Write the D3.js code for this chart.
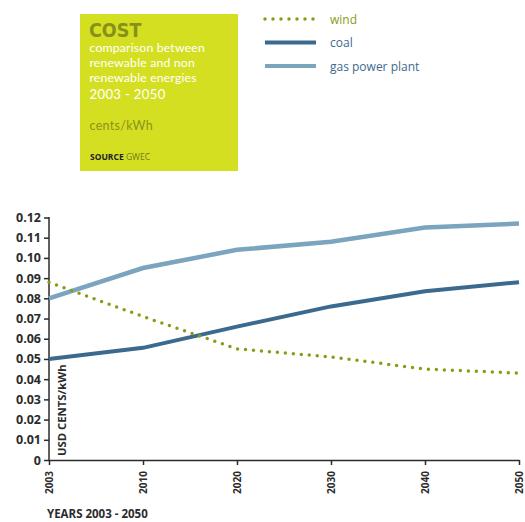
<!DOCTYPE html>
<html><head><meta charset="utf-8">
<script src="https://cdn.jsdelivr.net/npm/d3@7"></script>
<style>body{margin:0;background:#fff;}</style>
</head><body>
<svg id="c" width="525" height="522" font-family="'Open Sans',sans-serif"></svg>
<script>
const years = ["2003","2010","2020","2030","2040","2050"];
const wind = [0.088,0.071,0.055,0.051,0.045,0.043];
const coal = [0.050,0.0555,0.066,0.076,0.0835,0.088];
const gas = [0.080,0.095,0.104,0.108,0.115,0.117];
const yTicks = [0,0.01,0.02,0.03,0.04,0.05,0.06,0.07,0.08,0.09,0.10,0.11,0.12];

const svg = d3.select("#c");
const x = d3.scalePoint().domain(years).range([49,519]);
const y = d3.scaleLinear().domain([0,0.12]).range([460,217.5]);

const windC="#8c9a16", coalC="#3c6a8e", gasC="#7ba4be", ink="#2b2b2b";

// title box
svg.append("rect").attr("x",80).attr("y",14).attr("width",158).attr("height",157).attr("fill","#d5df22");
svg.append("text").attr("x",89).attr("y",37).attr("fill","#87911a").attr("font-size",19.5).attr("font-weight",700).attr("font-family","'DejaVu Sans Condensed',sans-serif").text("COST");
const sub=["comparison between","renewable and non","renewable energies"];
sub.forEach((s,i)=>svg.append("text").attr("x",89.5).attr("y",52+i*15).attr("fill","#fff").attr("font-size",12.3).attr("font-family","Lato,sans-serif").attr("letter-spacing",0.15).text(s));
svg.append("text").attr("x",89.5).attr("y",98.5).attr("fill","#fff").attr("font-size",13.2).attr("font-family","Lato,sans-serif").attr("letter-spacing",0.3).text("2003 - 2050");
svg.append("text").attr("x",89.5).attr("y",130).attr("fill","#8a9418").attr("font-size",12.5).attr("font-family","Lato,sans-serif").attr("letter-spacing",0.3).text("cents/kWh");
const src=svg.append("text").attr("x",90).attr("y",160).attr("font-size",8.5).attr("font-weight",700);
src.append("tspan").attr("fill","#222").text("SOURCE ");
src.append("tspan").attr("fill","#6f7a1c").attr("font-weight",400).text("GWEC");

// legend
const legend=[{n:"wind",c:windC,dot:true,w:3.5},{n:"coal",c:coalC,w:4},{n:"gas power plant",c:gasC,w:4}];
legend.forEach((d,i)=>{
  const yy=19+i*23.5;
  const l=svg.append("line").attr("x1",265).attr("x2",d.dot?314:316).attr("y1",yy).attr("y2",yy)
    .attr("stroke",d.c).attr("stroke-width",d.w);
  if(d.dot) l.attr("stroke-dasharray","0 8").attr("stroke-linecap","round");
  svg.append("text").attr("x",330).attr("y",yy+4.5).attr("fill",d.dot?windC:coalC).attr("font-size",12).text(d.n);
});

// axes
const yAxis=svg.append("g").attr("transform","translate(49,0)")
  .call(d3.axisLeft(y).tickValues(yTicks).tickSize(5).tickFormat(d=>d===0?"0":d3.format(".2f")(d)));
yAxis.attr("font-family","'Open Sans',sans-serif");
yAxis.selectAll("text").attr("font-size",12.5).attr("font-weight",700).attr("fill",ink);
yAxis.selectAll("line,path").attr("stroke",ink).attr("stroke-width",1.5);
yAxis.select("path").attr("d","M0,217V460");

const xAxis=svg.append("g").attr("transform","translate(0,460)")
  .call(d3.axisBottom(x).tickSize(5).tickSizeOuter(0));
xAxis.attr("font-family","'Open Sans',sans-serif");
xAxis.selectAll("line,path").attr("stroke",ink).attr("stroke-width",1.5);
xAxis.selectAll("text").attr("font-size",10).attr("font-weight",700).attr("fill",ink)
  .attr("transform","rotate(-90)").attr("text-anchor","end").attr("x",-11).attr("y",0).attr("dy","0.35em");

svg.append("text").attr("transform","translate(66,456) rotate(-90)").attr("font-size",11.3).attr("font-weight",700).attr("fill",ink).text("USD CENTS/kWh");
svg.append("text").attr("x",47).attr("y",518).attr("font-size",11.5).attr("font-weight",700).attr("fill",ink).text("YEARS 2003 - 2050");

// lines
const line=d3.line().x((d,i)=>x(years[i])).y(d=>y(d));
svg.append("path").attr("d",line(gas)).attr("fill","none").attr("stroke",gasC).attr("stroke-width",4.5);
svg.append("path").attr("d",line(coal)).attr("fill","none").attr("stroke",coalC).attr("stroke-width",4);
svg.append("path").attr("d",line(wind)).attr("fill","none").attr("stroke",windC).attr("stroke-width",3.5)
  .attr("stroke-dasharray","0 8").attr("stroke-linecap","round");
</script>
</body></html>
